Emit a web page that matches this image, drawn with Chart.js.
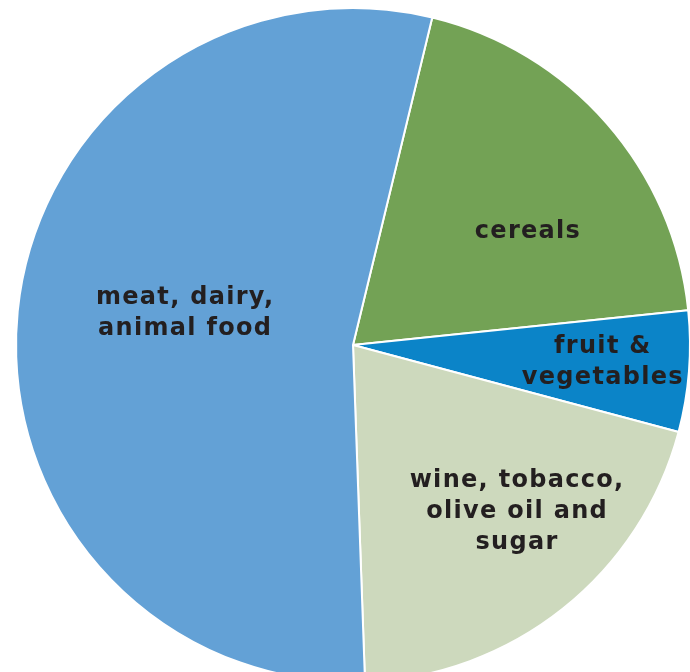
<!DOCTYPE html>
<html>
<head>
<meta charset="utf-8">
<script src="https://cdn.jsdelivr.net/npm/chart.js@4.4.1/dist/chart.umd.min.js"></script>
<style>
  html, body { margin: 0; padding: 0; background: #ffffff; overflow: hidden; }
  #wrap { position: absolute; left: 0; top: 0; width: 706px; height: 690px; }
</style>
</head>
<body>
<div id="wrap">
  <canvas id="myChart" width="706" height="690"></canvas>
</div>
<script>
// slices go clockwise, starting from the cereals/meat border
const categories = ["cereals", "fruit & vegetables", "wine, tobacco, olive oil and sugar", "meat, dairy, animal food"];
const shares = [19.6, 5.8, 20.3, 54.4];
const labelLines = [
  ["cereals"],
  ["fruit &", "vegetables"],
  ["wine, tobacco,", "olive oil and", "sugar"],
  ["meat, dairy,", "animal food"]
];

const sliceColors = ["#73a255", "#0b84c8", "#cdd9bd", "#63a1d6"];

// where each label sits: fraction of radius and turn (deg) from the slice middle
const labelPlace = [
  { frac: 0.616, turn: 8.1 },
  { frac: 0.74, turn: -0.7 },
  { frac: 0.691, turn: -5.9 },
  { frac: 0.51, turn: 5.0 }
];

const sliceLabels = {
  id: "sliceLabels",
  afterDatasetsDraw(chart) {
    const ctx = chart.ctx;
    const arcs = chart.getDatasetMeta(0).data;
    ctx.save();
    ctx.font = "bold 24px 'DejaVu Sans'";
    ctx.fillStyle = "#231f20";
    ctx.textAlign = "center";
    ctx.textBaseline = "alphabetic";
    if ("letterSpacing" in ctx) ctx.letterSpacing = "1.3px";
    const lineH = 31;
    arcs.forEach((arc, i) => {
      const p = arc.getProps(["x", "y", "startAngle", "endAngle", "outerRadius"], true);
      const mid = (p.startAngle + p.endAngle) / 2 + labelPlace[i].turn * Math.PI / 180;
      const r = p.outerRadius * labelPlace[i].frac;
      const cx = p.x + Math.cos(mid) * r;
      const cy = p.y + Math.sin(mid) * r;
      const lines = labelLines[i];
      const top = cy - (lines.length - 1) * lineH / 2;
      lines.forEach((txt, k) => {
        ctx.fillText(txt, cx + 1, top + k * lineH + 6.5);
      });
    });
    ctx.restore();
  }
};

const ctx = document.getElementById("myChart").getContext("2d");
new Chart(ctx, {
  type: "pie",
  data: {
    labels: categories,
    datasets: [
      {
        data: shares,
        backgroundColor: sliceColors,
        borderColor: "#ffffff",
        borderWidth: 2,
      },
    ],
  },
  options: {
    responsive: false,
    animation: false,
    rotation: 13.6,
    layout: { padding: 7 },
    plugins: {
      legend: { display: false },
      tooltip: { enabled: false },
    },
  },
  plugins: [sliceLabels],
});
</script>
</body>
</html>
